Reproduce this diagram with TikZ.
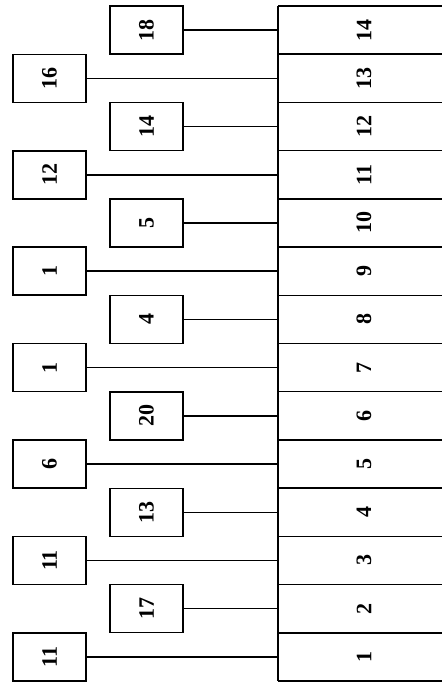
\documentclass[tikz,border=0pt]{standalone}
\usepackage{fontspec}
\setmainfont{Liberation Serif}
\begin{document}
\begin{tikzpicture}[x=1pt,y=-1pt,line width=1.5pt,
  box/.style={draw,minimum width=73pt,minimum height=48pt,inner sep=0pt,font=\fontsize{22}{22}\selectfont\bfseries},
  rowlab/.style={inner sep=0pt,font=\fontsize{22}{22}\selectfont\bfseries}]
\useasboundingbox (0,0) rectangle (442,688);
% bus line and row boundaries
\coordinate (bustop) at (278,6);
\coordinate (busbot) at (278,681);
\draw (bustop) -- (busbot);
\foreach \k in {0,...,14}{
  \coordinate (L\k) at (278,{681-\k*48.214});
  \coordinate (R\k) at (442,{681-\k*48.214});
  \draw (L\k) -- (R\k);
}
\foreach \i/\lab in {1/11,2/17,3/11,4/13,5/6,6/20,7/1,8/4,9/1,10/5,11/12,12/14,13/16,14/18}{
  \pgfmathsetmacro\yc{681-(\i-0.5)*48.214}
  \pgfmathsetmacro\xc{mod(\i,2)==1 ? 49.5 : 146.5}
  \node[box] (b\i) at (\xc,\yc) {\rotatebox{90}{\lab}};
  \coordinate (t\i) at (278,\yc);
  \draw (b\i.east) -- (t\i);
  \node[rowlab] (r\i) at (364,\yc) {\rotatebox{90}{\i}};
}
\end{tikzpicture}
\end{document}
